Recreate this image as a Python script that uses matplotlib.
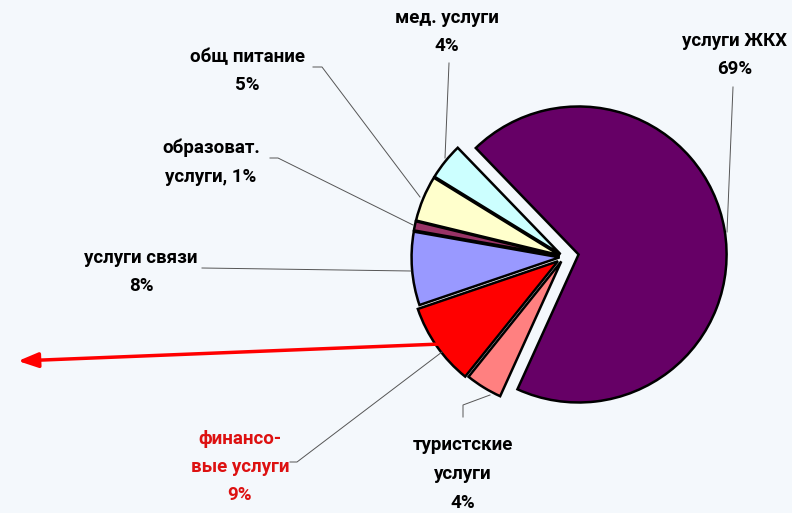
import numpy as np
import matplotlib.pyplot as plt

# доли платных услуг населению, %
categories = ["услуги ЖКХ", "туристские услуги", "финансовые услуги", "услуги связи",
              "образоват. услуги", "общ питание", "мед. услуги"]
shares = [69, 4, 9, 8, 1, 5, 4]
labels = ["услуги ЖКХ\n69%", "туристские\nуслуги\n4%", "финансо-\nвые услуги\n9%",
          "услуги связи\n8%", "образоват.\nуслуги, 1%", "общ питание\n5%", "мед. услуги\n4%"]
colors = ["#660066", "#FF8080", "#FF0000", "#9999FF", "#993366", "#FFFFCC", "#CCFFFF"]
explode = [0.10, 0.035, 0.05, 0.03, 0.03, 0.03, 0.03]

W, H = 792, 513
bg = "#F4F8FC"
R = 148

fig = plt.figure(figsize=(W / 100, H / 100), dpi=100, facecolor=bg)
ax = fig.add_axes([0, 0, 1, 1])
ax.set_facecolor(bg)

def Y(y):
    # pixel row -> axis y
    return H - y

# explode у pie задаётся в единицах данных, поэтому умножаем на радиус
ax.pie(shares, colors=colors, explode=[e * R for e in explode], startangle=134,
       counterclock=False, center=(564, Y(257)), radius=R, frame=True,
       wedgeprops=dict(edgecolor="black", linewidth=1.8))
ax.set_xlim(0, W)
ax.set_ylim(0, H)
ax.set_aspect("equal")
ax.axis("off")

plt.rcParams['font.family'] = ['Roboto', 'DejaVu Sans']

# label text centre and leader line for each slice (pixel rows)
label_pos = [(735, 55), (463, 474), (240, 467), (141, 272), (211, 162), (247, 71), (447, 32)]
leaders = [
    [(733, 87), (727, 232)],
    [(463, 417), (463, 405), (490, 395)],
    [(290, 462), (297, 462), (442, 352)],
    [(202, 268), (411, 271)],
    [(270, 158), (278, 158), (413, 225)],
    [(313, 67), (322, 67), (420, 197)],
    [(449, 63), (445, 158)],
]

for i, (txt, (x, y)) in enumerate(zip(labels, label_pos)):
    c = "#DD1111" if i == 2 else "black"
    ax.text(x, Y(y), txt, ha="center", va="center", fontsize=13.5, fontweight="bold",
            color=c, linespacing=1.75)
    pts = np.array(leaders[i], dtype=float)
    ax.plot(pts[:, 0], Y(pts[:, 1]), color="#555555", lw=0.7)

# стрелка от финансовых услуг
ax.annotate("", xy=(18, Y(361)), xytext=(441, Y(344)),
            arrowprops=dict(arrowstyle="-|>,head_length=1.2,head_width=0.45",
                            color="#FF0000", lw=2.5, shrinkA=0, shrinkB=0))

fig.savefig("out.png", dpi=100, facecolor=bg)
